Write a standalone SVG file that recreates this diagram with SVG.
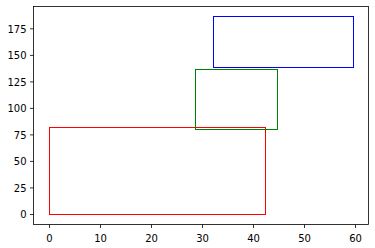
<svg xmlns="http://www.w3.org/2000/svg" width="375" height="248" viewBox="0 0 375 248">
<style>
.t{font-family:"DejaVu Sans",sans-serif;font-size:10px;fill:#000}
.xl{text-anchor:middle}
.yl{text-anchor:end}
.tk{stroke:#000;stroke-width:0.8}
.box{fill:none;stroke-width:1}
</style>
<rect x="0" y="0" width="375" height="248" fill="#fff"/>
<g id="shapes">
<g id="rect-red"><rect class="box" x="49.5" y="127.5" width="216" height="87" stroke="#ff0000"/></g>
<g id="rect-green"><rect class="box" x="195.5" y="69.5" width="82" height="60" stroke="#008000"/></g>
<g id="rect-blue"><rect class="box" x="213.5" y="16.5" width="140" height="51" stroke="#0000ff"/></g>
</g>
<g id="axes">
<rect x="33.5" y="6.5" width="335" height="218" fill="none" stroke="#000" stroke-width="0.8"/>
<g id="xticks">
<line class="tk" x1="49.5" y1="224.5" x2="49.5" y2="228"/>
<line class="tk" x1="100.5" y1="224.5" x2="100.5" y2="228"/>
<line class="tk" x1="151.5" y1="224.5" x2="151.5" y2="228"/>
<line class="tk" x1="202.5" y1="224.5" x2="202.5" y2="228"/>
<line class="tk" x1="253.5" y1="224.5" x2="253.5" y2="228"/>
<line class="tk" x1="304.5" y1="224.5" x2="304.5" y2="228"/>
<line class="tk" x1="355.5" y1="224.5" x2="355.5" y2="228"/>
<text class="t xl" x="49.5" y="242">0</text>
<text class="t xl" x="100.5" y="242">10</text>
<text class="t xl" x="151.5" y="242">20</text>
<text class="t xl" x="202.5" y="242">30</text>
<text class="t xl" x="253.5" y="242">40</text>
<text class="t xl" x="304.5" y="242">50</text>
<text class="t xl" x="355.5" y="242">60</text>
</g>
<g id="yticks">
<line class="tk" x1="30" y1="214.5" x2="33.5" y2="214.5"/>
<line class="tk" x1="30" y1="187.9" x2="33.5" y2="187.9"/>
<line class="tk" x1="30" y1="161.4" x2="33.5" y2="161.4"/>
<line class="tk" x1="30" y1="134.9" x2="33.5" y2="134.9"/>
<line class="tk" x1="30" y1="108.4" x2="33.5" y2="108.4"/>
<line class="tk" x1="30" y1="81.9" x2="33.5" y2="81.9"/>
<line class="tk" x1="30" y1="55.4" x2="33.5" y2="55.4"/>
<line class="tk" x1="30" y1="28.8" x2="33.5" y2="28.8"/>
<text class="t yl" x="26.5" y="218.3">0</text>
<text class="t yl" x="26.5" y="191.7">25</text>
<text class="t yl" x="26.5" y="165.2">50</text>
<text class="t yl" x="26.5" y="138.7">75</text>
<text class="t yl" x="26.5" y="112.2">100</text>
<text class="t yl" x="26.5" y="85.7">125</text>
<text class="t yl" x="26.5" y="59.2">150</text>
<text class="t yl" x="26.5" y="32.6">175</text>
</g>
</g>
</svg>
